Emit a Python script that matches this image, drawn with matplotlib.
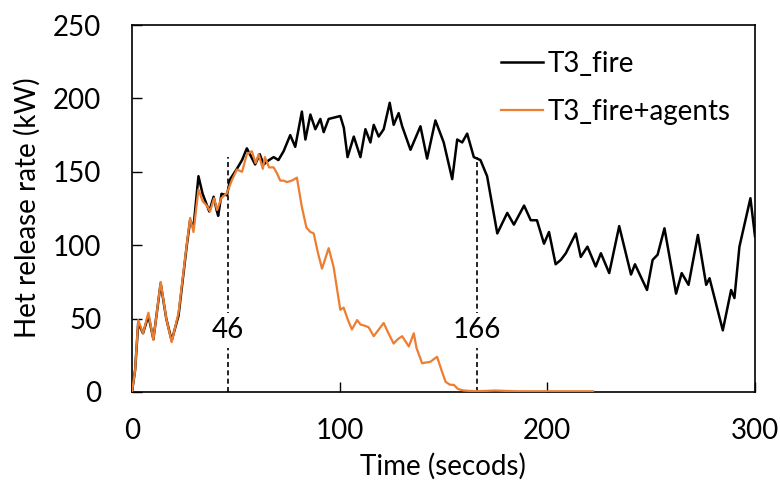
import matplotlib
matplotlib.use("Agg")
import matplotlib.pyplot as plt

plt.rcParams['font.family'] = ['Lato', 'DejaVu Sans']

# ---- data ----
fire_t = [0, 1.5, 3, 5.3, 7.9, 10.3, 13.8, 16.5, 19.1, 22.4, 26.4, 28, 29.6, 32, 34,
          37.2, 39.3, 40.9, 41.5, 43.1, 45.7, 47.3, 50.5, 53, 55.3, 57.5, 59.3, 61.5,
          63.4, 66, 68.2, 70.5, 73, 76.2, 78.6, 81.8, 83.5, 85.9, 88.3, 90.7, 92.3,
          94.7, 97.5, 100.3, 102, 103.8, 106.8, 110, 112.4, 114.8, 116.4, 118.8,
          121.2, 124.1, 126, 128.4, 130.1, 134.1, 138.9, 142.1, 146.1, 150.1, 154.2,
          156.6, 159, 161.4, 164.6, 167.8, 171, 175.9, 180.7, 183.9, 188.8, 192, 195,
          198.4, 200.8, 204, 206.5, 208.9, 213.7, 216.1, 219.3, 223.3, 225.8, 229.8,
          234.6, 240.3, 242.2, 248, 250.7, 253.1, 256.4, 262, 264.7, 268, 272.5,
          276.5, 278.1, 284.5, 288.5, 290.1, 292.5, 297.8, 300]
fire_hrr = [0, 15, 47, 40, 52, 36, 74, 50, 35, 52, 100, 117, 112, 147, 135,
            123, 133, 123, 120, 135, 134, 145, 152, 158, 166, 160, 155, 162,
            155, 158, 160, 158, 164, 175, 167, 191, 172, 189, 179, 186, 177,
            186, 187, 188, 180, 160, 174, 160, 179, 170, 182, 174,
            179, 197, 182, 190, 181, 165, 181, 159, 185, 170, 145,
            172, 170, 176, 160, 158, 147, 108, 122, 114, 127, 117, 117,
            101, 109, 87, 90, 94.5, 108, 92, 99, 85.5, 94.5, 81,
            113, 80, 87, 69.5, 90, 93.5, 111.5, 67, 81, 73, 107,
            73, 77.5, 42, 69.5, 64, 99, 132, 106]

agents_t = [0, 1.5, 3, 5.3, 7.9, 10.3, 13.8, 16.5, 19.1, 22.4, 26.4, 28, 29.6, 32, 34,
            36, 37.6, 39.5, 41, 43, 45.7, 48, 50.5, 53, 55.3, 57.7, 59.5, 61, 63, 64,
            66, 68.2, 69.8, 71.4, 73, 74.6, 77, 79.4, 81.8, 84, 85.9, 87.5, 89.5, 91.5,
            94.7, 97.1, 100.3, 101.9, 104, 105.9, 108.4, 110, 112.4, 114, 116.4, 118.5,
            121.2, 123.5, 126, 128, 130.1, 133.3, 135.7, 137, 139.7, 143.7, 146.9, 149,
            151, 153, 155, 157, 159.8, 165, 175, 185, 200, 210, 222]
agents_hrr = [0, 15, 49, 40, 54, 35.5, 75, 50, 34, 54, 101, 118.6, 109, 138, 130,
              127, 123, 132, 124, 132, 135.5, 144, 151.5, 150, 162, 164, 156, 162, 152, 160,
              153, 153, 149, 144, 144, 143, 144, 146, 126, 112, 109, 108, 95, 84,
              98, 85, 56, 57.5, 49, 42.6, 49, 46, 45, 44, 38, 42,
              47, 40, 33, 36, 38, 31, 40, 30, 19.6, 20.6, 24, 15,
              7, 5, 4.8, 2, 1, 0.5, 1, 0.5, 0.5, 0.5, 0.5]

mark_t = [46, 166]
mark_labels = ["46", "166"]
mark_top = 160
mark_label_y = 42

x_ticks = [0, 100, 200, 300]
y_ticks = [0, 50, 100, 150, 200, 250]

FS = 20

# ---- figure ----
fig = plt.figure(figsize=(7.8, 4.84), dpi=100)
ax = fig.add_axes([132 / 780, 1 - 392 / 484, 623 / 780, 367 / 484])

ax.plot(fire_t, fire_hrr, color='black', lw=1.8, label='T3_fire', zorder=3)
ax.plot(agents_t, agents_hrr, color='#ED7D31', lw=1.6, label='T3_fire+agents', zorder=4)

for t, lab in zip(mark_t, mark_labels):
    ax.vlines(t, 0, mark_top, colors='black', linestyles=(0, (3, 2)), lw=1.2, zorder=2)
    ax.text(t, mark_label_y, lab, ha='center', va='center', fontsize=FS,
            bbox=dict(facecolor='white', edgecolor='none', pad=3), zorder=5)

ax.set_xlim(0, 300)
ax.set_ylim(0, 250)
ax.set_xticks(x_ticks)
ax.set_yticks(y_ticks)
ax.tick_params(direction='in', length=7, width=1, labelsize=FS)
ax.tick_params(axis='x', pad=19)
ax.tick_params(axis='y', pad=22)
for s in ax.spines.values():
    s.set_linewidth(1.2)

fig.text(443 / 780, 1 - 466 / 484, 'Time (secods)', ha='center', va='center', fontsize=FS)
fig.text(27 / 780, 1 - 208 / 484, 'Het release rate (kW)', ha='center', va='center',
         rotation=90, fontsize=FS)

ax.legend(loc='center left', bbox_to_anchor=(501 / 780, 1 - 88 / 484),
          bbox_transform=fig.transFigure, frameon=False, fontsize=FS,
          borderpad=0, borderaxespad=0, handlelength=1.5, handletextpad=0.18,
          labelspacing=0.8)

fig.savefig('out.png', dpi=100)
